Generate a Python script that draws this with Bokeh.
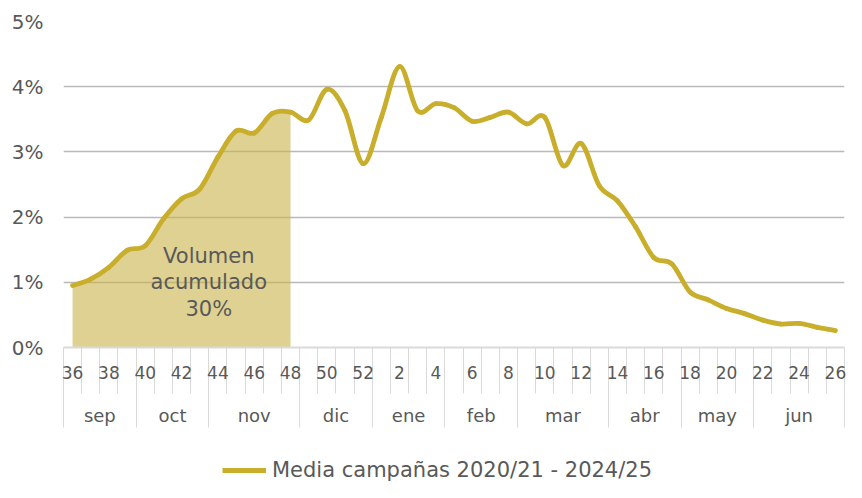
import numpy as np
from bokeh.plotting import figure
from bokeh.layouts import column
from bokeh.models import Range1d, LinearAxis, FixedTicker, Legend, LegendItem
from bokeh.core.properties import value
from bokeh.embed import file_html
from bokeh.resources import INLINE

# ---------------- data ----------------
weeks = [36, 37, 38, 39, 40, 41, 42, 43, 44, 45, 46, 47, 48, 49, 50, 51, 52,
         1, 2, 3, 4, 5, 6, 7, 8, 9, 10, 11, 12, 13, 14, 15, 16, 17, 18, 19, 20,
         21, 22, 23, 24, 25, 26]
share = [0.95, 1.05, 1.23, 1.49, 1.56, 1.97, 2.28, 2.43, 2.92, 3.32, 3.29, 3.59, 3.61,
         3.49, 3.96, 3.63, 2.82,
         3.53, 4.31, 3.63, 3.74, 3.68, 3.47, 3.53, 3.61, 3.43, 3.53, 2.79, 3.13,
         2.48, 2.25, 1.85, 1.38, 1.28, 0.85, 0.73, 0.60, 0.52, 0.42, 0.36, 0.37,
         0.31, 0.26]
months = ["sep", "oct", "nov", "dic", "ene", "feb", "mar", "abr", "may", "jun"]
month_weeks = [4, 4, 5, 4, 4, 4, 5, 4, 4, 5]
y_ticks = [0, 1, 2, 3, 4, 5]
fill_last_week = 48
series_label = "Media campañas 2020/21 - 2024/25"
annotation_text = "Volumen\nacumulado\n30%"
annotation_x = 7.5
annotation_y = 1.0

# ---------------- style ----------------
FONT = "DejaVu Sans"
LINE_COLOR = "#c9ae2c"
FILL_COLOR = "#c8b24a"
TEXT_COLOR = "#595959"
GRID_COLOR = "#b9b9b9"
SEP_COLOR = "#d9d9d9"

n = len(weeks)
x = np.arange(n, dtype=float)
y = np.array(share, dtype=float)

p = figure(width=846, height=435, output_backend="svg", toolbar_location=None,
           x_range=Range1d(-0.5, n - 0.5), y_range=Range1d(0, 5),
           x_axis_location=None, y_axis_location="left",
           min_border_left=63, min_border_right=2, min_border_top=21,
           min_border_bottom=88)
p.outline_line_color = None
p.xgrid.visible = False
p.background_fill_color = "white"
p.border_fill_color = "white"

# y axis
yax = p.yaxis[0]
yax.ticker = FixedTicker(ticks=y_ticks)
yax.major_label_overrides = {t: f"{t}%" for t in y_ticks}
yax.axis_line_color = None
yax.major_tick_line_color = None
yax.major_tick_out = 0
yax.major_tick_in = 0
yax.minor_tick_line_color = None
yax.major_label_text_font = FONT
yax.major_label_text_font_size = "20px"
yax.major_label_text_color = TEXT_COLOR
yax.major_label_standoff = 20
p.ygrid.ticker = FixedTicker(ticks=y_ticks)
p.ygrid.grid_line_color = GRID_COLOR
p.ygrid.grid_line_width = 1.5

# cumulative area (weeks 36..48)
last = weeks.index(fill_last_week)
p.varea(x=x[:last + 1], y1=np.zeros(last + 1), y2=y[:last + 1],
        fill_color=FILL_COLOR, fill_alpha=0.6)

# smoothed line through the data points (Catmull-Rom -> Bezier)
pts_x = np.concatenate([[x[0]], x, [x[-1]]])
pts_y = np.concatenate([[y[0]], y, [y[-1]]])
x0 = pts_x[1:-2]; y0 = pts_y[1:-2]
x1 = pts_x[2:-1]; y1 = pts_y[2:-1]
cx0 = x0 + (pts_x[2:-1] - pts_x[:-3]) / 6.0
cy0 = y0 + (pts_y[2:-1] - pts_y[:-3]) / 6.0
cx1 = x1 - (pts_x[3:] - pts_x[1:-2]) / 6.0
cy1 = y1 - (pts_y[3:] - pts_y[1:-2]) / 6.0
p.bezier(x0=x0, y0=y0, x1=x1, y1=y1, cx0=cx0, cy0=cy0, cx1=cx1, cy1=cy1,
         line_color=LINE_COLOR, line_width=4.8, line_cap="round")

# annotation
p.text(x=[annotation_x], y=[annotation_y], text=[annotation_text],
       text_align="center", text_baseline="middle", text_font=value(FONT),
       text_font_size="21px", text_color=TEXT_COLOR, text_line_height=1.1)

# week axis (labels every 2 weeks, separators between every week)
even_idx = [i for i, w in enumerate(weeks) if w % 2 == 0]
bounds = list(np.arange(n + 1) - 0.5)
ax_w = LinearAxis(ticker=FixedTicker(ticks=even_idx, minor_ticks=bounds))
ax_w.major_label_overrides = {i: str(weeks[i]) for i in even_idx}
ax_w.axis_line_color = SEP_COLOR
ax_w.axis_line_width = 2
ax_w.major_tick_line_color = None
ax_w.major_tick_out = 0
ax_w.major_tick_in = 0
ax_w.minor_tick_line_color = SEP_COLOR
ax_w.minor_tick_in = 0
ax_w.minor_tick_out = 46
ax_w.major_label_standoff = -28
ax_w.major_label_text_font = FONT
ax_w.major_label_text_font_size = "17px"
ax_w.major_label_text_color = TEXT_COLOR
p.add_layout(ax_w, "below")

# month axis (group labels, separators between months)
starts = np.concatenate([[0], np.cumsum(month_weeks)[:-1]])
centers = [float(s + (m - 1) / 2.0) for s, m in zip(starts, month_weeks)]
mbounds = [float(b) - 0.5 for b in np.concatenate([[0], np.cumsum(month_weeks)])]
ax_m = LinearAxis(ticker=FixedTicker(ticks=centers, minor_ticks=mbounds))
ax_m.major_label_overrides = {c: m for c, m in zip(centers, months)}
ax_m.axis_line_color = None
ax_m.major_tick_line_color = None
ax_m.major_tick_out = 0
ax_m.major_tick_in = 0
ax_m.minor_tick_line_color = SEP_COLOR
ax_m.minor_tick_in = 0
ax_m.minor_tick_out = 46
ax_m.major_label_standoff = -23
ax_m.major_label_text_font = FONT
ax_m.major_label_text_font_size = "18px"
ax_m.major_label_text_color = TEXT_COLOR
p.add_layout(ax_m, "below")

# legend strip below the chart
pl = figure(width=846, height=47, output_backend="svg", toolbar_location=None,
            x_range=Range1d(-20, -10), y_range=Range1d(-20, -10),
            x_axis_location=None, y_axis_location=None, min_border=0)
pl.outline_line_color = None
pl.grid.visible = False
leg_line = pl.line(x=x, y=y, line_color=LINE_COLOR, line_width=4.8)
legend = Legend(items=[LegendItem(label=series_label, renderers=[leg_line])],
                orientation="horizontal", location=(159, 0),
                padding=0, margin=0, glyph_width=44, glyph_height=18,
                label_standoff=6, border_line_color=None,
                background_fill_alpha=0,
                label_text_font=FONT, label_text_font_size="21px",
                label_text_color=TEXT_COLOR)
pl.add_layout(legend, "center")

layout = column(p, pl, spacing=0)
open("out.html", "w").write(file_html(layout, INLINE))
